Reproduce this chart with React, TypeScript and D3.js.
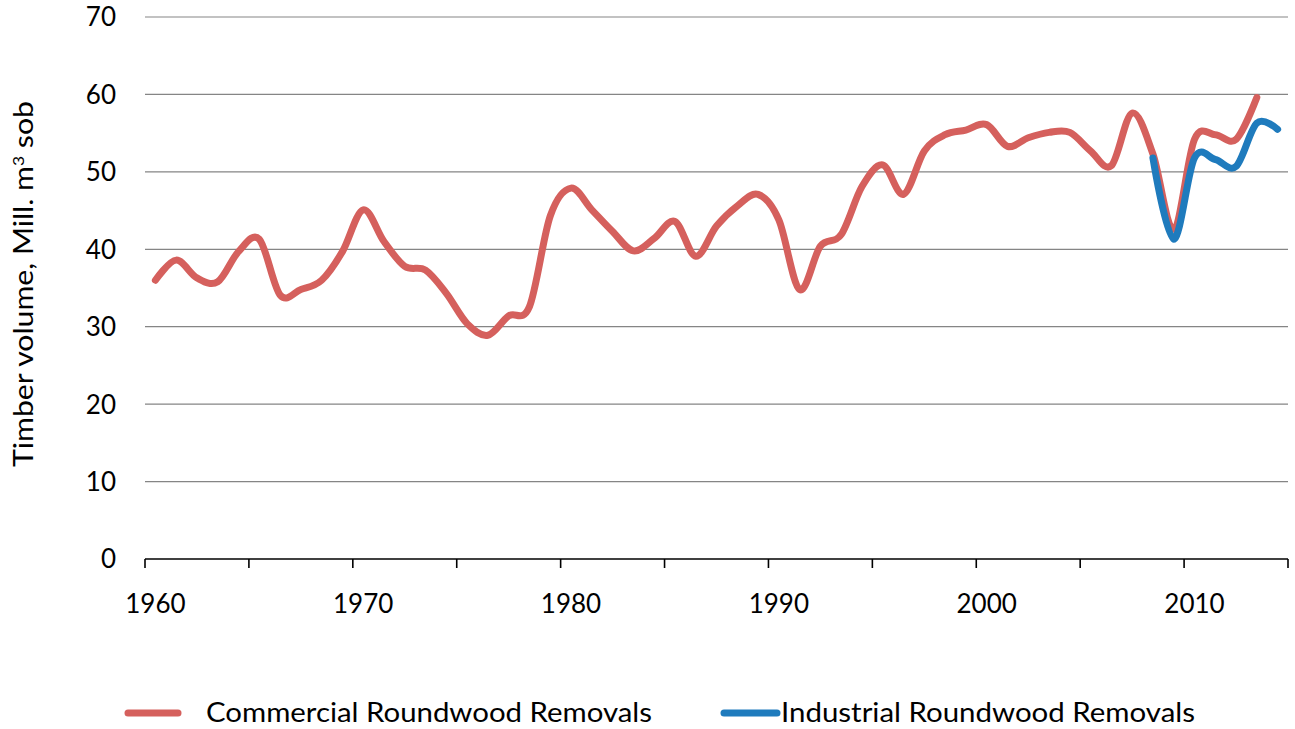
import React from "react";
import * as d3 from "d3";

const years: number[] = d3.range(1960, 2015);
const commercialYears: number[] = d3.range(1960, 2014);
const commercialValues: number[] = [
  36.0, 38.6, 36.3, 35.8, 39.7, 41.3, 34.1, 34.8, 36.0, 39.7,
  45.1, 41.0, 37.8, 37.3, 34.3, 30.4, 28.9, 31.4, 32.6, 44.3,
  47.9, 45.1, 42.3, 39.8, 41.4, 43.6, 39.1, 43.0, 45.6, 47.1,
  43.8, 34.8, 40.4, 41.9, 48.1, 50.9, 47.1, 52.7, 54.8, 55.4,
  56.1, 53.3, 54.4, 55.1, 55.1, 52.7, 50.8, 57.6, 52.3, 42.6,
  54.2, 54.8, 54.2, 59.6,
];
const industrialYears: number[] = d3.range(2008, 2015);
const industrialValues: number[] = [51.8, 41.3, 51.8, 51.6, 50.7, 56.3, 55.5];
const yTicks: number[] = [0, 10, 20, 30, 40, 50, 60, 70];
const xLabelYears: number[] = [1960, 1970, 1980, 1990, 2000, 2010];
const seriesNames: string[] = ["Commercial Roundwood Removals", "Industrial Roundwood Removals"];
const seriesColors: string[] = ["#d5605d", "#1f7bbd"];

const W = 1295;
const H = 729;
const FONT = "Lato, 'Open Sans', 'DejaVu Sans', sans-serif";

export default function App() {
  const x = d3.scaleBand<number>().domain(years).range([145, 1288]).paddingInner(0).paddingOuter(0);
  const cx = (yr: number) => (x(yr) as number) + x.bandwidth() / 2;
  const y = d3.scaleLinear().domain([0, 70]).range([559, 17]);

  const line = d3
    .line<[number, number]>()
    .x((d) => cx(d[0]))
    .y((d) => y(d[1]))
    .curve(d3.curveCatmullRom.alpha(0));

  const comm: [number, number][] = commercialYears.map((yr, i) => [yr, commercialValues[i]]);
  const ind: [number, number][] = industrialYears.map((yr, i) => [yr, industrialValues[i]]);

  const tickYears = years.filter((_, i) => i % 5 === 0);

  return (
    <svg
      width={W}
      height={H}
      style={{ position: "absolute", left: 0, top: 0, background: "#fff" }}
      fontFamily={FONT}
    >
      <rect x={0} y={0} width={W} height={H} fill="#fff" />
      {yTicks.filter((t) => t > 0).map((t) => (
        <line key={t} x1={145} x2={1288} y1={y(t)} y2={y(t)} stroke="#858585" strokeWidth={1.2} />
      ))}
      {yTicks.map((t) => (
        <text key={t} x={116} y={y(t)} dy="0.36em" textAnchor="end" fontSize={26} fill="#000">
          {t}
        </text>
      ))}
      <line x1={145} x2={1288} y1={559} y2={559} stroke="#000" strokeWidth={1.6} />
      {tickYears.map((yr) => (
        <line key={yr} x1={x(yr) as number} x2={x(yr) as number} y1={559} y2={568} stroke="#000" strokeWidth={1.6} />
      ))}
      <line x1={1288} x2={1288} y1={559} y2={568} stroke="#000" strokeWidth={1.6} />
      {xLabelYears.map((yr) => (
        <text key={yr} x={cx(yr)} y={604} dy="0.36em" textAnchor="middle" fontSize={26} fill="#000">
          {yr}
        </text>
      ))}
      <text
        transform={`translate(33,284) rotate(-90)`}
        textAnchor="middle"
        fontSize={26}
        fill="#000"
        textLength={366}
        lengthAdjust="spacingAndGlyphs"
      >
        Timber  volume, Mill. m<tspan dy={-9} fontSize={15}>3</tspan><tspan dy={9}> sob</tspan>
      </text>
      <path d={line(comm) || ""} fill="none" stroke={seriesColors[0]} strokeWidth={7} strokeLinecap="round" strokeLinejoin="round" />
      <path d={line(ind) || ""} fill="none" stroke={seriesColors[1]} strokeWidth={7} strokeLinecap="round" strokeLinejoin="round" />
      <line x1={128} x2={178} y1={713} y2={713} stroke={seriesColors[0]} strokeWidth={7} strokeLinecap="round" />
      <text x={206} y={713} dy="0.36em" fontSize={26} fill="#000" textLength={446} lengthAdjust="spacingAndGlyphs">
        {seriesNames[0]}
      </text>
      <line x1={724} x2={777} y1={713} y2={713} stroke={seriesColors[1]} strokeWidth={7} strokeLinecap="round" />
      <text x={781} y={713} dy="0.36em" fontSize={26} fill="#000" textLength={414} lengthAdjust="spacingAndGlyphs">
        {seriesNames[1]}
      </text>
    </svg>
  );
}
